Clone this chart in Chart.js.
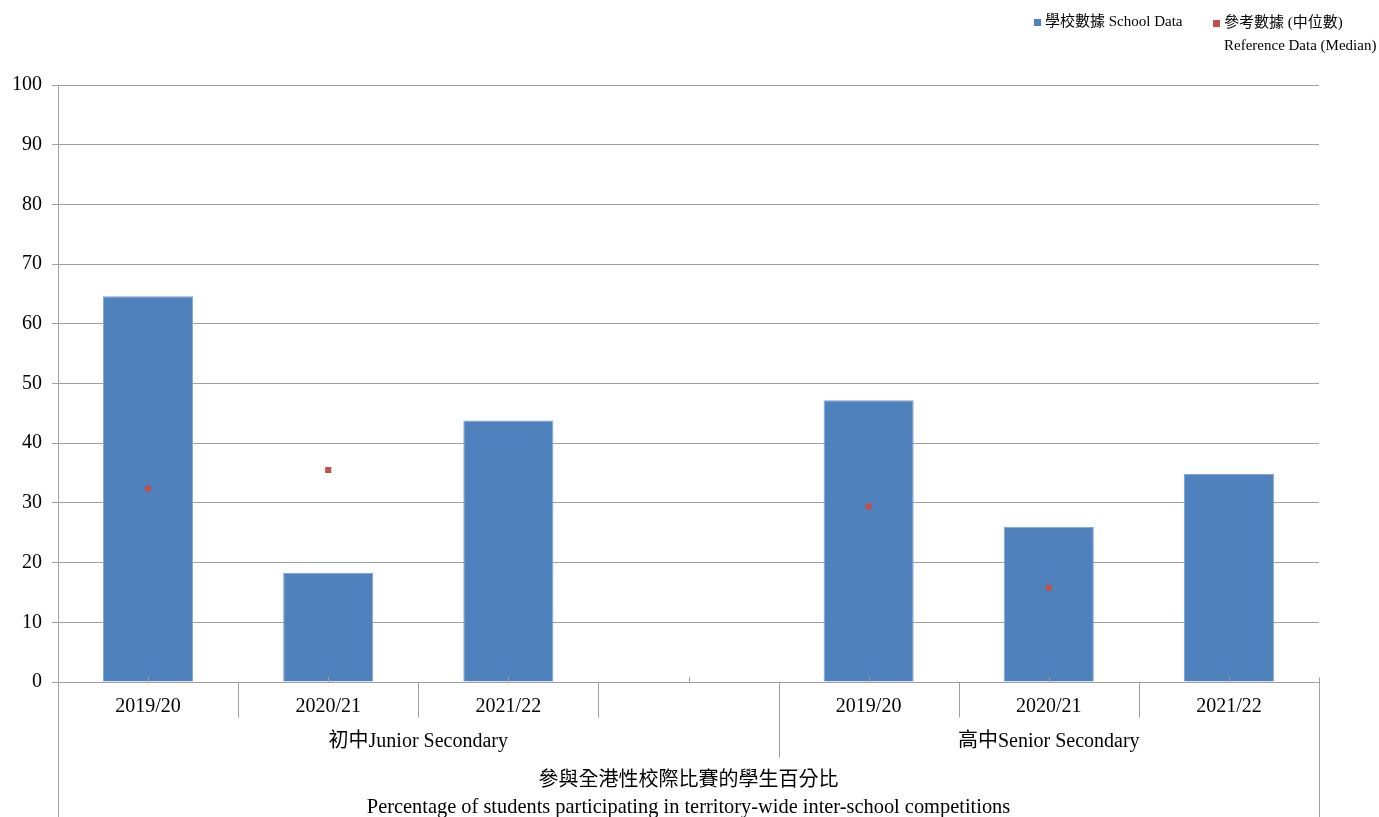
<!DOCTYPE html>
<html>
<head>
<meta charset="utf-8">
<script src="https://cdn.jsdelivr.net/npm/chart.js@4/dist/chart.umd.min.js"></script>
<style>
  html, body { margin: 0; padding: 0; background: #ffffff; }
  #wrap { width: 1379px; height: 817px; position: relative; }
</style>
</head>
<body>
<div id="wrap"><canvas id="chart"></canvas></div>
<script>
// Category axis: three school years per level, with one empty spacer slot between levels
const categories = ['2019/20', '2020/21', '2021/22', '', '2019/20', '2020/21', '2021/22'];
const groupLabels = ['初中Junior Secondary', '高中Senior Secondary'];
const groupSpans = [4, 3];

// Percentages
const schoolData = [64.6, 18.3, 43.8, null, 47.2, 26.0, 34.9];
const medianData = [32.4, 35.5, null, null, 29.4, 15.8, null];

const seriesNames = ['學校數據 School Data', ['參考數據 (中位數)', 'Reference Data (Median)']];
const titleLines = ['參與全港性校際比賽的學生百分比', 'Percentage of students participating in territory-wide inter-school competitions'];

const yTicks = { min: 0, max: 100, step: 10 };

const FONT = '"Liberation Serif", "Times New Roman", "Noto Sans CJK TC", serif';
const GRID = '#a0a0a0';
const BLUE = '#4f81bd';
const RED = '#c0504d';

// Draws the two-level category frame, group names, bottom title and the legend
const frame = {
  id: 'frame',
  afterDatasetsDraw(chart) {
    const x = chart.scales.x;
    const bottom = chart.chartArea.bottom;
    const ctx = chart.ctx;
    ctx.save();
    ctx.strokeStyle = GRID;
    ctx.lineWidth = 1;
    // small marks at category centres
    for (let i = 0; i < categories.length; i++) {
      const px = Math.round(x.getPixelForValue(i)) + 0.5;
      ctx.beginPath();
      ctx.moveTo(px, bottom - 5);
      ctx.lineTo(px, bottom);
      ctx.stroke();
    }
    ctx.restore();
  },
  afterDraw(chart) {
    const ctx = chart.ctx;
    const x = chart.scales.x;
    const area = chart.chartArea;
    const bottom = Math.round(area.bottom) + 0.5;
    const H = chart.height;
    const half = (x.getPixelForValue(1) - x.getPixelForValue(0)) / 2;
    const edge = i => Math.round(x.getPixelForValue(i) - half) + 0.5;

    ctx.save();
    ctx.strokeStyle = GRID;
    ctx.lineWidth = 1;

    const groupEdges = [];
    let acc = 0;
    groupSpans.forEach(s => { acc += s; groupEdges.push(acc); });

    for (let i = 1; i < categories.length; i++) {
      const isGroup = groupEdges.includes(i);
      ctx.beginPath();
      ctx.moveTo(edge(i), bottom);
      ctx.lineTo(edge(i), bottom + (isGroup ? 75 : 35));
      ctx.stroke();
    }
    // outer frame of the label area
    const lx = Math.round(area.left) + 0.5;
    const rx = Math.round(area.right) + 0.5;
    ctx.beginPath();
    ctx.moveTo(lx, bottom);
    ctx.lineTo(lx, H);
    ctx.moveTo(rx, bottom - 5);
    ctx.lineTo(rx, H);
    ctx.stroke();

    // group names
    ctx.fillStyle = '#000';
    ctx.textAlign = 'center';
    ctx.textBaseline = 'middle';
    ctx.font = '20px ' + FONT;
    let start = 0;
    groupSpans.forEach((s, g) => {
      const l = x.getPixelForValue(start) - half;
      const r = x.getPixelForValue(start + s - 1) + half;
      ctx.fillText(groupLabels[g], (l + r) / 2, 742);
      start += s;
    });

    // title under the axis
    const cx = (area.left + area.right) / 2;
    ctx.fillText(titleLines[0], cx, 781);
    ctx.font = '20.4px ' + FONT;
    ctx.fillText(titleLines[1], cx, 808);

    // legend
    ctx.font = '15px ' + FONT;
    ctx.textAlign = 'left';
    ctx.fillStyle = BLUE;
    ctx.fillRect(1034, 19, 7, 7);
    ctx.fillStyle = '#000';
    ctx.fillText(seriesNames[0], 1045, 22);
    ctx.fillStyle = RED;
    ctx.fillRect(1213, 20, 7, 7);
    ctx.fillStyle = '#000';
    ctx.fillText(seriesNames[1][0], 1224, 23);
    ctx.fillText(seriesNames[1][1], 1224, 46);
    ctx.restore();
  }
};

new Chart(document.getElementById('chart'), {
  data: {
    labels: categories,
    datasets: [
      {
        type: 'line',
        label: seriesNames[1].join(' '),
        data: medianData,
        showLine: false,
        pointStyle: 'rect',
        pointRadius: 4.3,
        pointHoverRadius: 4.3,
        pointBorderWidth: 0,
        pointBackgroundColor: RED,
        borderColor: RED,
        backgroundColor: RED,
        order: 0
      },
      {
        type: 'bar',
        label: seriesNames[0],
        data: schoolData,
        backgroundColor: BLUE,
        borderColor: '#7fa2cf',
        borderWidth: 1,
        categoryPercentage: 1,
        barPercentage: 0.5,
        order: 1
      }
    ]
  },
  options: {
    responsive: true,
    maintainAspectRatio: false,
    animation: false,
    events: [],
    layout: { padding: { top: 85, left: 0, right: 60, bottom: 0 } },
    plugins: {
      legend: { display: false },
      tooltip: { enabled: false },
      title: { display: false }
    },
    scales: {
      x: {
        type: 'category',
        offset: true,
        afterFit(scale) { scale.height = 135; },
        grid: { display: true, drawOnChartArea: false, drawTicks: false, color: 'rgba(0,0,0,0)' },
        border: { display: true, color: GRID, width: 1 },
        ticks: {
          color: '#000',
          padding: 13,
          maxRotation: 0,
          autoSkip: false,
          font: { family: FONT, size: 20 }
        }
      },
      y: {
        min: yTicks.min,
        max: yTicks.max,
        afterFit(scale) { scale.width = 58; },
        grid: { color: GRID, lineWidth: 1, drawTicks: true, tickLength: 6 },
        border: { display: true, color: GRID, width: 1 },
        ticks: {
          stepSize: yTicks.step,
          color: '#000',
          padding: 10,
          font: { family: FONT, size: 20 }
        }
      }
    }
  },
  plugins: [frame]
});
</script>
</body>
</html>
